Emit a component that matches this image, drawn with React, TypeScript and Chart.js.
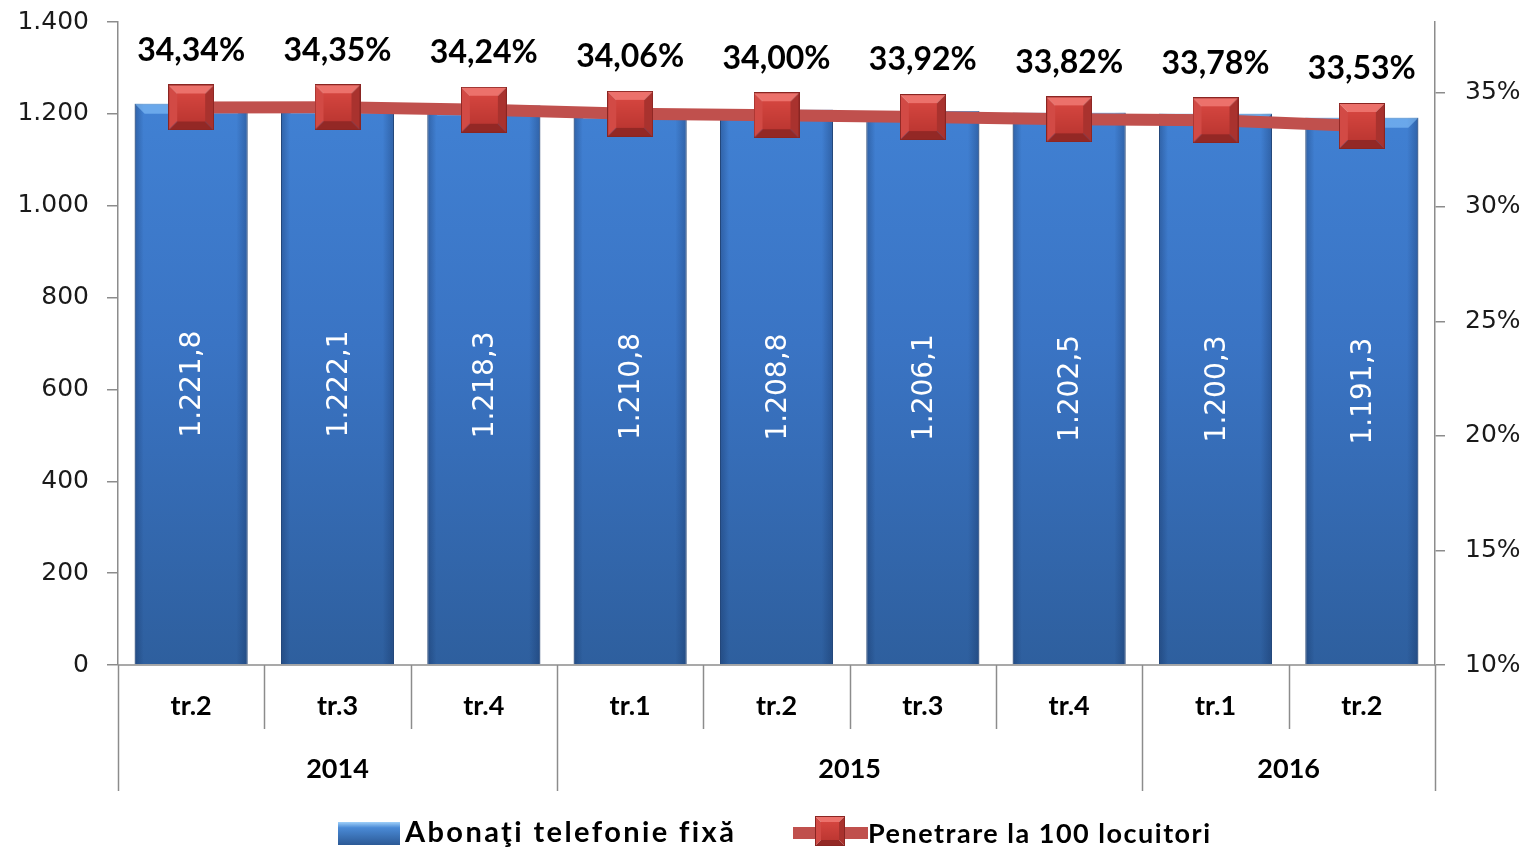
import React, { useEffect, useRef } from 'react';
import { Chart, registerables } from 'chart.js';

Chart.register(...registerables);

const quarters = ['tr.2', 'tr.3', 'tr.4', 'tr.1', 'tr.2', 'tr.3', 'tr.4', 'tr.1', 'tr.2'];
const years = ['2014', '2015', '2016'];
const yearSpans = [3, 4, 2];
const subscribers = [1221.8, 1222.1, 1218.3, 1210.8, 1208.8, 1206.1, 1202.5, 1200.3, 1191.3];
const penetration = [34.34, 34.35, 34.24, 34.06, 34.0, 33.92, 33.82, 33.78, 33.53];
const leftTicks = [0, 200, 400, 600, 800, 1000, 1200, 1400];
const rightTicks = [10, 15, 20, 25, 30, 35];
const seriesNames = ['Abonaţi telefonie fixă', 'Penetrare la 100 locuitori'];

const groupThousands = (s: string) => s.replace(/\B(?=(\d{3})+(?!\d))/g, '.');
const fmtInt = (v: number) => groupThousands(String(Math.round(v)));
const fmtDec1 = (v: number) => {
  const [i, d] = v.toFixed(1).split('.');
  return groupThousands(i) + ',' + d;
};
const fmtPct2 = (v: number) => v.toFixed(2).replace('.', ',') + '%';
const fmtPct0 = (v: number) => Math.round(v) + '%';

const AXIS_COLOR = '#8c8c8c';
const TEXT_COLOR = '#1a1a1a';

function makeMarker(size: number): HTMLCanvasElement {
  const c = document.createElement('canvas');
  c.width = size;
  c.height = size;
  const g = c.getContext('2d') as CanvasRenderingContext2D;
  const b = Math.round(size * 0.2);
  const poly = (pts: number[][], color: string) => {
    g.beginPath();
    g.moveTo(pts[0][0], pts[0][1]);
    for (let i = 1; i < pts.length; i++) g.lineTo(pts[i][0], pts[i][1]);
    g.closePath();
    g.fillStyle = color;
    g.fill();
  };
  poly([[0, 0], [size, 0], [size - b, b], [b, b]], '#ec716b');
  poly([[0, 0], [b, b], [b, size - b], [0, size]], '#d24a45');
  poly([[size, 0], [size, size], [size - b, size - b], [size - b, b]], '#a9322e');
  poly([[0, size], [b, size - b], [size - b, size - b], [size, size]], '#932825');
  const cg = g.createLinearGradient(0, b, 0, size - b);
  cg.addColorStop(0, '#d4453f');
  cg.addColorStop(1, '#bd3732');
  g.fillStyle = cg;
  g.fillRect(b, b, size - 2 * b, size - 2 * b);
  g.strokeStyle = '#8a2522';
  g.lineWidth = 1;
  g.strokeRect(0.5, 0.5, size - 1, size - 1);
  return c;
}

export default function App() {
  const canvasRef = useRef<HTMLCanvasElement | null>(null);

  useEffect(() => {
    const canvas = canvasRef.current;
    if (!canvas) return;
    const marker = makeMarker(46);
    const legendMarker = makeMarker(30);

    const decor = {
      id: 'decor',
      afterDatasetDraw(chart: any, args: any) {
        if (args.index !== 0) return;
        const ctx = chart.ctx as CanvasRenderingContext2D;
        const meta = chart.getDatasetMeta(0);
        ctx.save();
        meta.data.forEach((el: any, i: number) => {
          const w = el.width;
          const left = el.x - w / 2;
          const top = el.y;
          const bottom = el.base;
          const hg = ctx.createLinearGradient(left, 0, left + w, 0);
          hg.addColorStop(0, 'rgba(10,30,70,0.30)');
          hg.addColorStop(0.08, 'rgba(10,30,70,0.0)');
          hg.addColorStop(0.9, 'rgba(10,30,70,0.0)');
          hg.addColorStop(1, 'rgba(10,30,70,0.30)');
          ctx.fillStyle = hg;
          ctx.fillRect(left, top, w, bottom - top);
          const bev = 10;
          ctx.beginPath();
          ctx.moveTo(left, top);
          ctx.lineTo(left + w, top);
          ctx.lineTo(left + w - bev, top + bev);
          ctx.lineTo(left + bev, top + bev);
          ctx.closePath();
          ctx.fillStyle = 'rgba(140,200,255,0.55)';
          ctx.fill();
          ctx.save();
          ctx.translate(el.x, (top + bottom) / 2);
          ctx.rotate(-Math.PI / 2);
          ctx.fillStyle = '#ffffff';
          ctx.font = '28px "DejaVu Sans"';
          ctx.textAlign = 'center';
          ctx.textBaseline = 'middle';
          ctx.fillText(fmtDec1(subscribers[i]), 0, 2);
          ctx.restore();
        });
        ctx.restore();
      },
      afterDraw(chart: any) {
        const ctx = chart.ctx as CanvasRenderingContext2D;
        const area = chart.chartArea;
        const xs = chart.scales.x;
        ctx.save();
        const lmeta = chart.getDatasetMeta(1);
        ctx.fillStyle = '#000';
        ctx.font = 'bold 32px Lato';
        ctx.textAlign = 'center';
        ctx.textBaseline = 'middle';
        lmeta.data.forEach((p: any, i: number) => {
          ctx.fillText(fmtPct2(penetration[i]), p.x, p.y - 57);
        });
        ctx.strokeStyle = AXIS_COLOR;
        ctx.lineWidth = 1.5;
        ctx.beginPath();
        ctx.moveTo(area.left, area.bottom);
        ctx.lineTo(area.right, area.bottom);
        ctx.stroke();
        const n = quarters.length;
        const catW = (area.right - area.left) / n;
        const bounds = new Set<number>();
        let acc = 0;
        bounds.add(0);
        yearSpans.forEach((s) => {
          acc += s;
          bounds.add(acc);
        });
        for (let k = 0; k <= n; k++) {
          const x = Math.round(area.left + k * catW) + 0.5;
          ctx.beginPath();
          ctx.moveTo(x, area.bottom);
          ctx.lineTo(x, bounds.has(k) ? area.bottom + 126 : area.bottom + 64);
          ctx.stroke();
        }
        ctx.fillStyle = '#000';
        ctx.font = 'bold 27px Lato';
        quarters.forEach((q, i) => {
          ctx.fillText(q, xs.getPixelForValue(i), area.bottom + 41);
        });
        let start = 0;
        years.forEach((y, j) => {
          const end = start + yearSpans[j] - 1;
          const cx = (xs.getPixelForValue(start) + xs.getPixelForValue(end)) / 2;
          ctx.fillText(y, cx, area.bottom + 104);
          start += yearSpans[j];
        });
        const ly = 833;
        const sg = ctx.createLinearGradient(0, ly - 11, 0, ly + 12);
        sg.addColorStop(0, '#9fd0fa');
        sg.addColorStop(0.25, '#4a8ad6');
        sg.addColorStop(1, '#2c5a96');
        ctx.fillStyle = sg;
        ctx.fillRect(338, ly - 11, 62, 23);
        ctx.fillStyle = '#000';
        ctx.textAlign = 'left';
        ctx.font = 'bold 29px Lato';
        (ctx as any).letterSpacing = '2.4px';
        ctx.fillText(seriesNames[0], 405, ly);
        (ctx as any).letterSpacing = '0px';
        ctx.strokeStyle = '#c0504d';
        ctx.lineWidth = 12;
        ctx.beginPath();
        ctx.moveTo(793, ly);
        ctx.lineTo(868, ly);
        ctx.stroke();
        ctx.drawImage(legendMarker, 830 - 15, ly - 17);
        ctx.font = 'bold 27px Lato';
        (ctx as any).letterSpacing = '1.5px';
        ctx.fillText(seriesNames[1], 868, ly + 1);
        (ctx as any).letterSpacing = '0px';
        ctx.restore();
      },
    };

    const chart = new Chart(canvas, {
      type: 'bar',
      data: {
        labels: quarters,
        datasets: [
          {
            type: 'bar',
            label: seriesNames[0],
            data: subscribers,
            yAxisID: 'y',
            order: 2,
            barPercentage: 0.772,
            categoryPercentage: 1,
            borderColor: '#2b568f',
            borderWidth: 1,
            backgroundColor: (c: any) => {
              const a = c.chart.chartArea;
              if (!a) return '#3a72c0';
              const g = c.chart.ctx.createLinearGradient(0, a.top, 0, a.bottom);
              g.addColorStop(0, '#4385d8');
              g.addColorStop(0.5, '#3a74c4');
              g.addColorStop(1, '#2e5f9e');
              return g;
            },
          } as any,
          {
            type: 'line',
            label: seriesNames[1],
            data: penetration,
            yAxisID: 'y1',
            order: 1,
            borderColor: '#c0504d',
            borderWidth: 12,
            pointStyle: marker as any,
            pointRadius: 23,
            clip: false,
            tension: 0,
          } as any,
        ],
      },
      options: {
        responsive: false,
        animation: false,
        layout: { autoPadding: false, padding: { top: 22, bottom: 187, left: 0, right: 0 } },
        plugins: { legend: { display: false }, tooltip: { enabled: false } },
        scales: {
          x: { display: false, offset: true },
          y: {
            position: 'left',
            min: 0,
            max: 1400,
            afterBuildTicks: (s: any) => {
              s.ticks = leftTicks.map((v) => ({ value: v }));
            },
            afterFit: (s: any) => {
              s.width = 118;
              s.paddingTop = 0;
              s.paddingBottom = 0;
            },
            grid: { drawOnChartArea: false, tickLength: 11, color: AXIS_COLOR, lineWidth: 1.5 },
            border: { color: AXIS_COLOR, width: 1.5 },
            ticks: {
              padding: 18,
              color: TEXT_COLOR,
              font: { family: 'DejaVu Sans', size: 25 },
              callback: (v: any) => fmtInt(Number(v)),
            },
          },
          y1: {
            position: 'right',
            min: 10,
            max: 38.07,
            afterBuildTicks: (s: any) => {
              s.ticks = rightTicks.map((v) => ({ value: v }));
            },
            afterFit: (s: any) => {
              s.width = 94;
              s.paddingTop = 0;
              s.paddingBottom = 0;
            },
            grid: { drawOnChartArea: false, tickLength: 10, color: AXIS_COLOR, lineWidth: 1.5 },
            border: { color: AXIS_COLOR, width: 1.5 },
            ticks: {
              padding: 20,
              color: TEXT_COLOR,
              font: { family: 'DejaVu Sans', size: 25 },
              callback: (v: any) => fmtPct0(Number(v)),
            },
          },
        },
      },
      plugins: [decor],
    } as any);

    if ((document as any).fonts && (document as any).fonts.load) {
      Promise.all([
        document.fonts.load('bold 32px Lato'),
        document.fonts.load('25px "DejaVu Sans"'),
      ])
        .then(() => chart.update())
        .catch(() => {});
    }

    return () => {
      chart.destroy();
    };
  }, []);

  return (
    <div style={{ position: 'fixed', left: 0, top: 0, width: 1529, height: 852, background: '#fff' }}>
      <canvas ref={canvasRef} width={1529} height={852} style={{ display: 'block' }} />
    </div>
  );
}
